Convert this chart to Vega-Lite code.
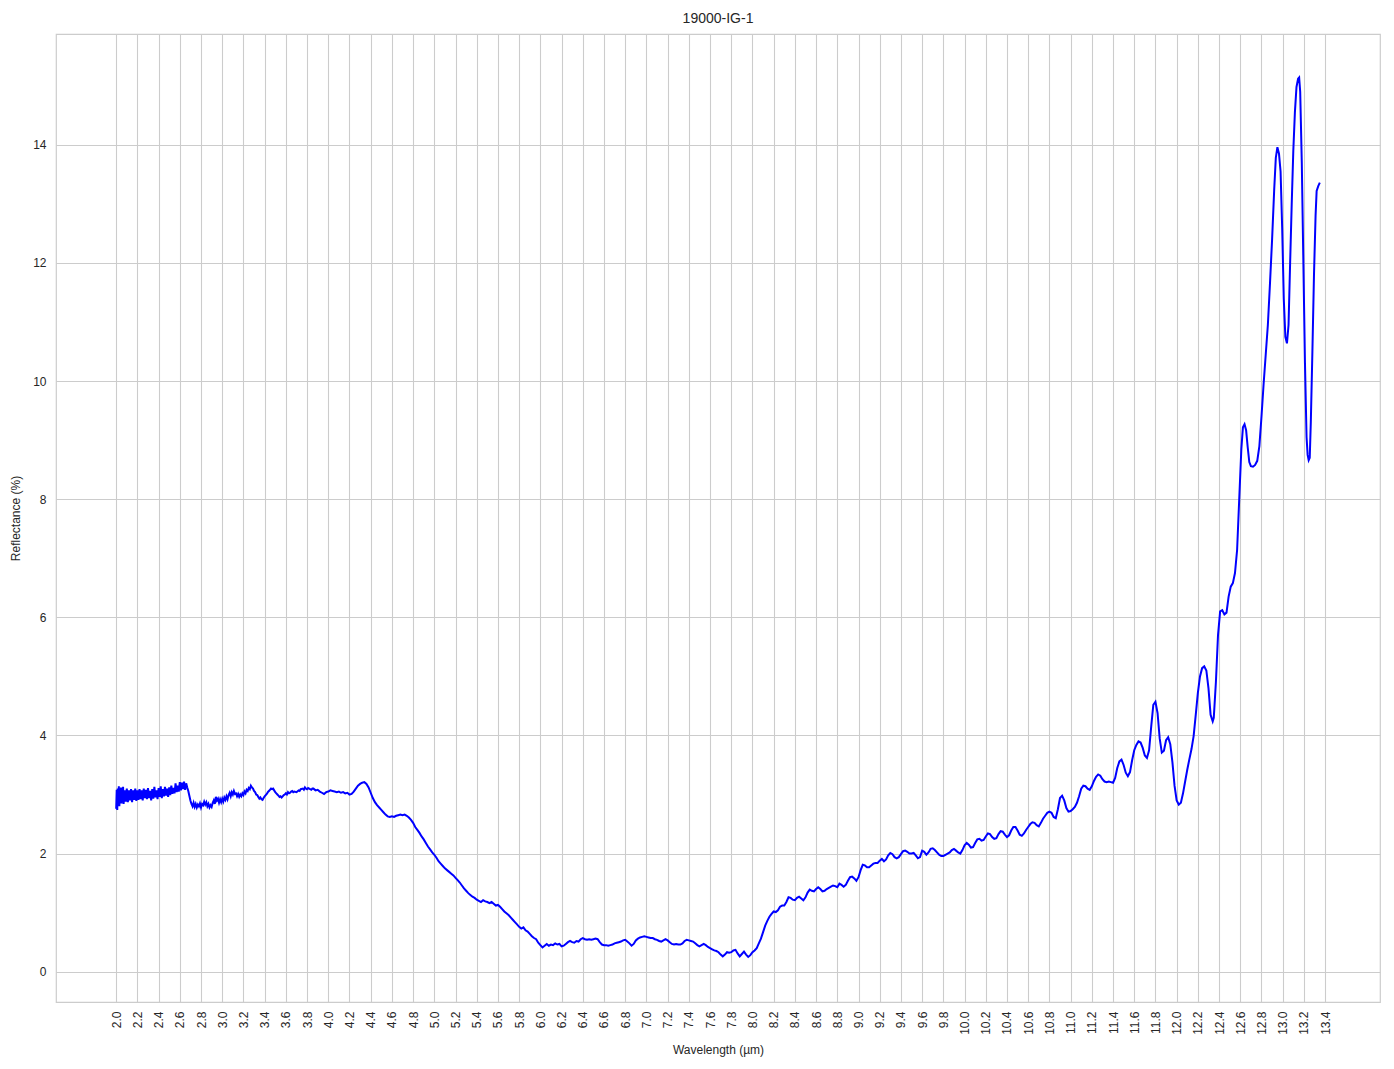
{
  "$schema": "https://vega.github.io/schema/vega-lite/v6.json",
  "width": 1324,
  "height": 968,
  "autosize": {"type": "none"},
  "padding": {"left": 56, "top": 34, "right": 14, "bottom": 67},
  "background": "white",
  "title": {"text": "19000-IG-1", "font": "Liberation Sans", "fontSize": 14, "fontWeight": "normal", "color": "#262626", "offset": 8},
  "config": {
    "view": {"stroke": "#cccccc", "strokeWidth": 1.2},
    "axis": {"labelFont": "Liberation Sans", "titleFont": "Liberation Sans", "labelColor": "#262626", "titleColor": "#262626", "labelFontSize": 12, "titleFontSize": 12, "titleFontWeight": "normal", "gridColor": "#cccccc", "gridWidth": 1.1, "domain": false, "ticks": false}
  },
  "data": {"values": [
{"w":2.000,"r":2.76},{"w":2.005,"r":3.08},{"w":2.010,"r":2.74},{"w":2.015,"r":3.10},{"w":2.020,"r":2.82},{"w":2.025,"r":3.14},{"w":2.030,"r":2.80},{"w":2.035,"r":3.06},{"w":2.040,"r":2.86},{"w":2.045,"r":3.12},{"w":2.050,"r":2.85},{"w":2.055,"r":3.08},{"w":2.060,"r":2.88},{"w":2.065,"r":3.13},{"w":2.070,"r":2.84},{"w":2.080,"r":3.07},{"w":2.090,"r":2.88},{"w":2.100,"r":3.10},{"w":2.110,"r":2.87},{"w":2.120,"r":3.07},{"w":2.130,"r":2.90},{"w":2.140,"r":3.09},{"w":2.150,"r":2.87},{"w":2.160,"r":3.07},{"w":2.170,"r":2.91},{"w":2.180,"r":3.10},{"w":2.190,"r":2.89},{"w":2.200,"r":3.07},{"w":2.210,"r":2.91},{"w":2.220,"r":3.09},{"w":2.230,"r":2.92},{"w":2.240,"r":3.07},{"w":2.250,"r":2.90},{"w":2.260,"r":3.10},{"w":2.270,"r":2.94},{"w":2.280,"r":3.08},{"w":2.290,"r":2.92},{"w":2.300,"r":3.11},{"w":2.310,"r":2.94},{"w":2.320,"r":3.06},{"w":2.330,"r":2.90},{"w":2.340,"r":3.09},{"w":2.350,"r":2.93},{"w":2.360,"r":3.13},{"w":2.370,"r":2.95},{"w":2.380,"r":3.07},{"w":2.390,"r":2.92},{"w":2.400,"r":3.11},{"w":2.410,"r":2.96},{"w":2.420,"r":3.14},{"w":2.430,"r":2.94},{"w":2.440,"r":3.09},{"w":2.450,"r":2.97},{"w":2.460,"r":3.13},{"w":2.470,"r":2.98},{"w":2.480,"r":3.10},{"w":2.490,"r":2.96},{"w":2.500,"r":3.12},{"w":2.510,"r":2.99},{"w":2.520,"r":3.15},{"w":2.530,"r":3.01},{"w":2.540,"r":3.11},{"w":2.550,"r":3.02},{"w":2.560,"r":3.19},{"w":2.570,"r":3.04},{"w":2.580,"r":3.15},{"w":2.590,"r":3.05},{"w":2.600,"r":3.21},{"w":2.610,"r":3.07},{"w":2.620,"r":3.20},{"w":2.630,"r":3.09},{"w":2.640,"r":3.22},{"w":2.650,"r":3.08},{"w":2.660,"r":3.19},{"w":2.670,"r":3.12},{"w":2.680,"r":3.06},{"w":2.690,"r":2.98},{"w":2.700,"r":2.90},{"w":2.710,"r":2.84},{"w":2.720,"r":2.80},{"w":2.730,"r":2.86},{"w":2.740,"r":2.79},{"w":2.750,"r":2.84},{"w":2.760,"r":2.78},{"w":2.770,"r":2.83},{"w":2.780,"r":2.80},{"w":2.790,"r":2.85},{"w":2.800,"r":2.78},{"w":2.810,"r":2.84},{"w":2.820,"r":2.82},{"w":2.830,"r":2.88},{"w":2.840,"r":2.83},{"w":2.850,"r":2.87},{"w":2.860,"r":2.80},{"w":2.870,"r":2.84},{"w":2.880,"r":2.78},{"w":2.890,"r":2.82},{"w":2.900,"r":2.79},{"w":2.910,"r":2.86},{"w":2.920,"r":2.90},{"w":2.930,"r":2.84},{"w":2.940,"r":2.96},{"w":2.950,"r":2.90},{"w":2.960,"r":2.93},{"w":2.970,"r":2.86},{"w":2.980,"r":2.92},{"w":2.990,"r":2.87},{"w":3.000,"r":2.93},{"w":3.010,"r":2.88},{"w":3.020,"r":2.95},{"w":3.030,"r":2.91},{"w":3.040,"r":2.97},{"w":3.050,"r":2.92},{"w":3.060,"r":2.99},{"w":3.070,"r":3.03},{"w":3.080,"r":2.97},{"w":3.090,"r":3.04},{"w":3.100,"r":3.00},{"w":3.110,"r":3.06},{"w":3.120,"r":3.01},{"w":3.130,"r":3.02},{"w":3.140,"r":2.97},{"w":3.150,"r":3.01},{"w":3.160,"r":2.96},{"w":3.170,"r":3.00},{"w":3.180,"r":2.97},{"w":3.190,"r":3.02},{"w":3.200,"r":2.99},{"w":3.210,"r":3.05},{"w":3.220,"r":3.02},{"w":3.230,"r":3.08},{"w":3.240,"r":3.06},{"w":3.250,"r":3.11},{"w":3.260,"r":3.09},{"w":3.270,"r":3.15},{"w":3.280,"r":3.12},{"w":3.290,"r":3.10},{"w":3.300,"r":3.06},{"w":3.310,"r":3.04},{"w":3.320,"r":3.00},{"w":3.330,"r":2.99},{"w":3.340,"r":2.96},{"w":3.350,"r":2.93},{"w":3.360,"r":2.95},{"w":3.370,"r":2.92},{"w":3.380,"r":2.91},{"w":3.390,"r":2.94},{"w":3.400,"r":2.97},{"w":3.410,"r":2.99},{"w":3.420,"r":3.01},{"w":3.430,"r":3.04},{"w":3.440,"r":3.06},{"w":3.450,"r":3.08},{"w":3.460,"r":3.10},{"w":3.470,"r":3.09},{"w":3.480,"r":3.10},{"w":3.490,"r":3.07},{"w":3.500,"r":3.04},{"w":3.510,"r":3.02},{"w":3.520,"r":3.00},{"w":3.530,"r":2.98},{"w":3.540,"r":2.96},{"w":3.550,"r":2.97},{"w":3.560,"r":2.95},{"w":3.570,"r":2.97},{"w":3.580,"r":2.99},{"w":3.590,"r":3.00},{"w":3.600,"r":3.02},{"w":3.610,"r":3.00},{"w":3.620,"r":3.04},{"w":3.630,"r":3.02},{"w":3.640,"r":3.03},{"w":3.650,"r":3.05},{"w":3.660,"r":3.06},{"w":3.670,"r":3.04},{"w":3.680,"r":3.05},{"w":3.700,"r":3.04},{"w":3.720,"r":3.07},{"w":3.730,"r":3.06},{"w":3.740,"r":3.09},{"w":3.760,"r":3.10},{"w":3.770,"r":3.08},{"w":3.780,"r":3.12},{"w":3.790,"r":3.10},{"w":3.800,"r":3.09},{"w":3.810,"r":3.11},{"w":3.820,"r":3.10},{"w":3.840,"r":3.08},{"w":3.850,"r":3.10},{"w":3.860,"r":3.10},{"w":3.880,"r":3.07},{"w":3.900,"r":3.08},{"w":3.920,"r":3.05},{"w":3.940,"r":3.03},{"w":3.960,"r":3.01},{"w":3.980,"r":3.04},{"w":4.000,"r":3.05},{"w":4.020,"r":3.07},{"w":4.040,"r":3.06},{"w":4.060,"r":3.05},{"w":4.080,"r":3.04},{"w":4.100,"r":3.05},{"w":4.120,"r":3.03},{"w":4.140,"r":3.04},{"w":4.160,"r":3.02},{"w":4.180,"r":3.03},{"w":4.200,"r":3.00},{"w":4.220,"r":3.01},{"w":4.240,"r":3.05},{"w":4.260,"r":3.10},{"w":4.280,"r":3.15},{"w":4.300,"r":3.18},{"w":4.320,"r":3.20},{"w":4.340,"r":3.21},{"w":4.360,"r":3.18},{"w":4.380,"r":3.12},{"w":4.400,"r":3.03},{"w":4.420,"r":2.94},{"w":4.440,"r":2.87},{"w":4.460,"r":2.82},{"w":4.480,"r":2.78},{"w":4.500,"r":2.74},{"w":4.520,"r":2.70},{"w":4.540,"r":2.66},{"w":4.560,"r":2.63},{"w":4.580,"r":2.62},{"w":4.600,"r":2.63},{"w":4.620,"r":2.62},{"w":4.640,"r":2.64},{"w":4.660,"r":2.65},{"w":4.680,"r":2.66},{"w":4.700,"r":2.65},{"w":4.720,"r":2.66},{"w":4.740,"r":2.64},{"w":4.760,"r":2.61},{"w":4.780,"r":2.57},{"w":4.800,"r":2.52},{"w":4.820,"r":2.45},{"w":4.840,"r":2.40},{"w":4.860,"r":2.35},{"w":4.880,"r":2.29},{"w":4.900,"r":2.24},{"w":4.920,"r":2.18},{"w":4.940,"r":2.12},{"w":4.960,"r":2.07},{"w":4.980,"r":2.02},{"w":5.000,"r":1.98},{"w":5.020,"r":1.93},{"w":5.040,"r":1.87},{"w":5.060,"r":1.83},{"w":5.080,"r":1.79},{"w":5.100,"r":1.75},{"w":5.120,"r":1.72},{"w":5.140,"r":1.69},{"w":5.160,"r":1.66},{"w":5.180,"r":1.63},{"w":5.200,"r":1.59},{"w":5.220,"r":1.55},{"w":5.240,"r":1.51},{"w":5.260,"r":1.46},{"w":5.280,"r":1.41},{"w":5.300,"r":1.37},{"w":5.320,"r":1.33},{"w":5.340,"r":1.30},{"w":5.360,"r":1.27},{"w":5.380,"r":1.25},{"w":5.400,"r":1.22},{"w":5.420,"r":1.20},{"w":5.440,"r":1.18},{"w":5.460,"r":1.21},{"w":5.480,"r":1.19},{"w":5.500,"r":1.18},{"w":5.520,"r":1.16},{"w":5.540,"r":1.18},{"w":5.560,"r":1.15},{"w":5.580,"r":1.12},{"w":5.600,"r":1.13},{"w":5.620,"r":1.10},{"w":5.640,"r":1.06},{"w":5.660,"r":1.02},{"w":5.680,"r":0.99},{"w":5.700,"r":0.96},{"w":5.720,"r":0.92},{"w":5.740,"r":0.88},{"w":5.760,"r":0.84},{"w":5.780,"r":0.80},{"w":5.800,"r":0.76},{"w":5.820,"r":0.73},{"w":5.840,"r":0.75},{"w":5.860,"r":0.70},{"w":5.880,"r":0.68},{"w":5.900,"r":0.64},{"w":5.920,"r":0.60},{"w":5.940,"r":0.57},{"w":5.960,"r":0.55},{"w":5.980,"r":0.49},{"w":6.000,"r":0.45},{"w":6.020,"r":0.41},{"w":6.040,"r":0.44},{"w":6.060,"r":0.47},{"w":6.080,"r":0.44},{"w":6.100,"r":0.46},{"w":6.120,"r":0.45},{"w":6.140,"r":0.48},{"w":6.160,"r":0.46},{"w":6.180,"r":0.47},{"w":6.200,"r":0.43},{"w":6.220,"r":0.44},{"w":6.240,"r":0.47},{"w":6.260,"r":0.50},{"w":6.280,"r":0.52},{"w":6.300,"r":0.50},{"w":6.320,"r":0.49},{"w":6.340,"r":0.52},{"w":6.360,"r":0.51},{"w":6.380,"r":0.55},{"w":6.400,"r":0.57},{"w":6.420,"r":0.55},{"w":6.440,"r":0.54},{"w":6.460,"r":0.55},{"w":6.480,"r":0.54},{"w":6.500,"r":0.55},{"w":6.520,"r":0.56},{"w":6.540,"r":0.55},{"w":6.560,"r":0.50},{"w":6.580,"r":0.46},{"w":6.600,"r":0.45},{"w":6.620,"r":0.45},{"w":6.640,"r":0.44},{"w":6.660,"r":0.45},{"w":6.680,"r":0.46},{"w":6.700,"r":0.48},{"w":6.720,"r":0.49},{"w":6.740,"r":0.50},{"w":6.760,"r":0.51},{"w":6.780,"r":0.53},{"w":6.800,"r":0.54},{"w":6.820,"r":0.51},{"w":6.840,"r":0.48},{"w":6.860,"r":0.44},{"w":6.880,"r":0.47},{"w":6.900,"r":0.53},{"w":6.920,"r":0.56},{"w":6.940,"r":0.58},{"w":6.960,"r":0.59},{"w":6.980,"r":0.60},{"w":7.000,"r":0.59},{"w":7.020,"r":0.58},{"w":7.040,"r":0.57},{"w":7.060,"r":0.57},{"w":7.080,"r":0.55},{"w":7.100,"r":0.54},{"w":7.120,"r":0.52},{"w":7.140,"r":0.51},{"w":7.160,"r":0.53},{"w":7.180,"r":0.55},{"w":7.200,"r":0.53},{"w":7.220,"r":0.50},{"w":7.240,"r":0.47},{"w":7.260,"r":0.46},{"w":7.280,"r":0.47},{"w":7.300,"r":0.46},{"w":7.320,"r":0.46},{"w":7.340,"r":0.48},{"w":7.360,"r":0.52},{"w":7.380,"r":0.54},{"w":7.400,"r":0.53},{"w":7.420,"r":0.52},{"w":7.440,"r":0.51},{"w":7.460,"r":0.48},{"w":7.480,"r":0.45},{"w":7.500,"r":0.43},{"w":7.520,"r":0.45},{"w":7.540,"r":0.47},{"w":7.560,"r":0.45},{"w":7.580,"r":0.42},{"w":7.600,"r":0.40},{"w":7.620,"r":0.38},{"w":7.640,"r":0.36},{"w":7.660,"r":0.35},{"w":7.680,"r":0.33},{"w":7.700,"r":0.29},{"w":7.720,"r":0.26},{"w":7.740,"r":0.29},{"w":7.760,"r":0.33},{"w":7.780,"r":0.32},{"w":7.800,"r":0.33},{"w":7.820,"r":0.36},{"w":7.840,"r":0.37},{"w":7.860,"r":0.31},{"w":7.880,"r":0.26},{"w":7.900,"r":0.30},{"w":7.920,"r":0.34},{"w":7.940,"r":0.29},{"w":7.960,"r":0.25},{"w":7.980,"r":0.28},{"w":8.000,"r":0.33},{"w":8.020,"r":0.36},{"w":8.040,"r":0.40},{"w":8.060,"r":0.48},{"w":8.080,"r":0.56},{"w":8.100,"r":0.67},{"w":8.120,"r":0.78},{"w":8.140,"r":0.86},{"w":8.160,"r":0.93},{"w":8.180,"r":0.98},{"w":8.200,"r":1.02},{"w":8.220,"r":1.01},{"w":8.240,"r":1.04},{"w":8.260,"r":1.10},{"w":8.280,"r":1.12},{"w":8.300,"r":1.12},{"w":8.320,"r":1.18},{"w":8.340,"r":1.26},{"w":8.360,"r":1.25},{"w":8.380,"r":1.22},{"w":8.400,"r":1.21},{"w":8.420,"r":1.25},{"w":8.440,"r":1.27},{"w":8.460,"r":1.24},{"w":8.480,"r":1.21},{"w":8.500,"r":1.26},{"w":8.520,"r":1.34},{"w":8.540,"r":1.39},{"w":8.560,"r":1.37},{"w":8.580,"r":1.36},{"w":8.600,"r":1.40},{"w":8.620,"r":1.43},{"w":8.640,"r":1.40},{"w":8.660,"r":1.36},{"w":8.680,"r":1.37},{"w":8.700,"r":1.40},{"w":8.720,"r":1.42},{"w":8.740,"r":1.44},{"w":8.760,"r":1.46},{"w":8.780,"r":1.45},{"w":8.800,"r":1.43},{"w":8.820,"r":1.49},{"w":8.840,"r":1.47},{"w":8.860,"r":1.44},{"w":8.880,"r":1.47},{"w":8.900,"r":1.54},{"w":8.920,"r":1.60},{"w":8.940,"r":1.61},{"w":8.960,"r":1.58},{"w":8.980,"r":1.54},{"w":9.000,"r":1.60},{"w":9.020,"r":1.72},{"w":9.040,"r":1.81},{"w":9.060,"r":1.80},{"w":9.080,"r":1.77},{"w":9.100,"r":1.77},{"w":9.120,"r":1.80},{"w":9.140,"r":1.83},{"w":9.160,"r":1.84},{"w":9.180,"r":1.84},{"w":9.200,"r":1.88},{"w":9.220,"r":1.91},{"w":9.240,"r":1.87},{"w":9.260,"r":1.90},{"w":9.280,"r":1.97},{"w":9.300,"r":2.01},{"w":9.320,"r":1.99},{"w":9.340,"r":1.94},{"w":9.360,"r":1.92},{"w":9.380,"r":1.94},{"w":9.400,"r":1.99},{"w":9.420,"r":2.04},{"w":9.440,"r":2.05},{"w":9.460,"r":2.03},{"w":9.480,"r":2.00},{"w":9.500,"r":2.00},{"w":9.520,"r":2.01},{"w":9.540,"r":1.97},{"w":9.560,"r":1.92},{"w":9.580,"r":1.94},{"w":9.600,"r":2.05},{"w":9.620,"r":2.03},{"w":9.640,"r":1.98},{"w":9.660,"r":2.02},{"w":9.680,"r":2.08},{"w":9.700,"r":2.09},{"w":9.720,"r":2.06},{"w":9.740,"r":2.02},{"w":9.760,"r":1.98},{"w":9.780,"r":1.96},{"w":9.800,"r":1.96},{"w":9.820,"r":1.98},{"w":9.840,"r":2.00},{"w":9.860,"r":2.02},{"w":9.880,"r":2.06},{"w":9.900,"r":2.08},{"w":9.920,"r":2.05},{"w":9.940,"r":2.02},{"w":9.960,"r":2.00},{"w":9.980,"r":2.06},{"w":10.000,"r":2.14},{"w":10.020,"r":2.18},{"w":10.040,"r":2.15},{"w":10.060,"r":2.10},{"w":10.080,"r":2.11},{"w":10.100,"r":2.18},{"w":10.120,"r":2.24},{"w":10.140,"r":2.25},{"w":10.160,"r":2.22},{"w":10.180,"r":2.23},{"w":10.200,"r":2.29},{"w":10.220,"r":2.34},{"w":10.240,"r":2.33},{"w":10.260,"r":2.28},{"w":10.280,"r":2.25},{"w":10.300,"r":2.26},{"w":10.320,"r":2.33},{"w":10.340,"r":2.38},{"w":10.360,"r":2.37},{"w":10.380,"r":2.32},{"w":10.400,"r":2.28},{"w":10.420,"r":2.31},{"w":10.440,"r":2.39},{"w":10.460,"r":2.45},{"w":10.480,"r":2.45},{"w":10.500,"r":2.39},{"w":10.520,"r":2.32},{"w":10.540,"r":2.30},{"w":10.560,"r":2.34},{"w":10.580,"r":2.40},{"w":10.600,"r":2.45},{"w":10.620,"r":2.50},{"w":10.640,"r":2.53},{"w":10.660,"r":2.52},{"w":10.680,"r":2.48},{"w":10.700,"r":2.46},{"w":10.720,"r":2.52},{"w":10.740,"r":2.59},{"w":10.760,"r":2.64},{"w":10.780,"r":2.69},{"w":10.800,"r":2.71},{"w":10.820,"r":2.69},{"w":10.840,"r":2.62},{"w":10.860,"r":2.60},{"w":10.880,"r":2.75},{"w":10.900,"r":2.94},{"w":10.920,"r":2.98},{"w":10.940,"r":2.90},{"w":10.960,"r":2.77},{"w":10.980,"r":2.71},{"w":11.000,"r":2.72},{"w":11.020,"r":2.75},{"w":11.040,"r":2.79},{"w":11.060,"r":2.86},{"w":11.080,"r":2.97},{"w":11.100,"r":3.10},{"w":11.120,"r":3.15},{"w":11.140,"r":3.14},{"w":11.160,"r":3.10},{"w":11.180,"r":3.08},{"w":11.200,"r":3.14},{"w":11.220,"r":3.23},{"w":11.240,"r":3.30},{"w":11.260,"r":3.34},{"w":11.280,"r":3.32},{"w":11.300,"r":3.26},{"w":11.320,"r":3.22},{"w":11.340,"r":3.21},{"w":11.360,"r":3.22},{"w":11.380,"r":3.21},{"w":11.400,"r":3.20},{"w":11.420,"r":3.28},{"w":11.440,"r":3.45},{"w":11.460,"r":3.56},{"w":11.480,"r":3.59},{"w":11.500,"r":3.50},{"w":11.520,"r":3.37},{"w":11.540,"r":3.31},{"w":11.560,"r":3.38},{"w":11.580,"r":3.58},{"w":11.600,"r":3.75},{"w":11.620,"r":3.84},{"w":11.640,"r":3.90},{"w":11.660,"r":3.88},{"w":11.680,"r":3.79},{"w":11.700,"r":3.66},{"w":11.720,"r":3.62},{"w":11.740,"r":3.75},{"w":11.760,"r":4.15},{"w":11.780,"r":4.52},{"w":11.800,"r":4.57},{"w":11.820,"r":4.38},{"w":11.840,"r":3.95},{"w":11.860,"r":3.71},{"w":11.880,"r":3.74},{"w":11.900,"r":3.92},{"w":11.920,"r":3.97},{"w":11.940,"r":3.85},{"w":11.960,"r":3.55},{"w":11.980,"r":3.15},{"w":12.000,"r":2.90},{"w":12.020,"r":2.83},{"w":12.040,"r":2.86},{"w":12.060,"r":3.02},{"w":12.080,"r":3.22},{"w":12.100,"r":3.42},{"w":12.120,"r":3.60},{"w":12.140,"r":3.77},{"w":12.160,"r":3.99},{"w":12.180,"r":4.35},{"w":12.200,"r":4.72},{"w":12.220,"r":5.00},{"w":12.240,"r":5.14},{"w":12.260,"r":5.17},{"w":12.280,"r":5.10},{"w":12.300,"r":4.80},{"w":12.320,"r":4.35},{"w":12.340,"r":4.24},{"w":12.350,"r":4.30},{"w":12.370,"r":4.90},{"w":12.390,"r":5.70},{"w":12.410,"r":6.10},{"w":12.430,"r":6.12},{"w":12.450,"r":6.05},{"w":12.470,"r":6.08},{"w":12.490,"r":6.35},{"w":12.510,"r":6.52},{"w":12.530,"r":6.58},{"w":12.550,"r":6.75},{"w":12.570,"r":7.14},{"w":12.590,"r":8.00},{"w":12.610,"r":8.85},{"w":12.625,"r":9.22},{"w":12.640,"r":9.27},{"w":12.655,"r":9.17},{"w":12.670,"r":8.88},{"w":12.685,"r":8.63},{"w":12.700,"r":8.56},{"w":12.720,"r":8.55},{"w":12.740,"r":8.58},{"w":12.760,"r":8.65},{"w":12.780,"r":8.90},{"w":12.800,"r":9.40},{"w":12.820,"r":9.95},{"w":12.840,"r":10.45},{"w":12.860,"r":10.95},{"w":12.880,"r":11.65},{"w":12.900,"r":12.40},{"w":12.920,"r":13.25},{"w":12.935,"r":13.78},{"w":12.950,"r":13.96},{"w":12.965,"r":13.85},{"w":12.980,"r":13.55},{"w":12.995,"r":12.60},{"w":13.010,"r":11.40},{"w":13.025,"r":10.75},{"w":13.040,"r":10.64},{"w":13.055,"r":10.95},{"w":13.070,"r":12.00},{"w":13.085,"r":13.00},{"w":13.100,"r":13.90},{"w":13.115,"r":14.55},{"w":13.130,"r":14.98},{"w":13.145,"r":15.12},{"w":13.155,"r":15.14},{"w":13.165,"r":14.90},{"w":13.180,"r":13.70},{"w":13.195,"r":12.00},{"w":13.210,"r":10.30},{"w":13.225,"r":9.05},{"w":13.235,"r":8.75},{"w":13.245,"r":8.66},{"w":13.255,"r":8.70},{"w":13.265,"r":9.30},{"w":13.280,"r":10.50},{"w":13.295,"r":11.80},{"w":13.310,"r":12.80},{"w":13.320,"r":13.22},{"w":13.335,"r":13.30},{"w":13.350,"r":13.36}
  ]},
  "mark": {"type": "line", "color": "#0000ff", "strokeWidth": 2, "clip": true},
  "encoding": {
    "x": {
      "field": "w", "type": "quantitative",
      "scale": {"domain": [1.4325, 13.9175], "nice": false, "zero": false},
      "axis": {
        "title": "Wavelength (µm)",
        "values": [2.0,2.2,2.4,2.6,2.8,3.0,3.2,3.4,3.6,3.8,4.0,4.2,4.4,4.6,4.8,5.0,5.2,5.4,5.6,5.8,6.0,6.2,6.4,6.6,6.8,7.0,7.2,7.4,7.6,7.8,8.0,8.2,8.4,8.6,8.8,9.0,9.2,9.4,9.6,9.8,10.0,10.2,10.4,10.6,10.8,11.0,11.2,11.4,11.6,11.8,12.0,12.2,12.4,12.6,12.8,13.0,13.2,13.4],
        "format": ".1f",
        "labelAngle": -90,
        "labelPadding": 9,
        "titlePadding": 10,
        "labelOverlap": false,
        "labelFlush": false
      }
    },
    "y": {
      "field": "r", "type": "quantitative",
      "scale": {"domain": [-0.513, 15.877], "nice": false, "zero": false},
      "axis": {
        "title": "Reflectance (%)",
        "values": [0,2,4,6,8,10,12,14],
        "labelPadding": 10,
        "titlePadding": 10,
        "labelFlush": false
      }
    }
  }
}
